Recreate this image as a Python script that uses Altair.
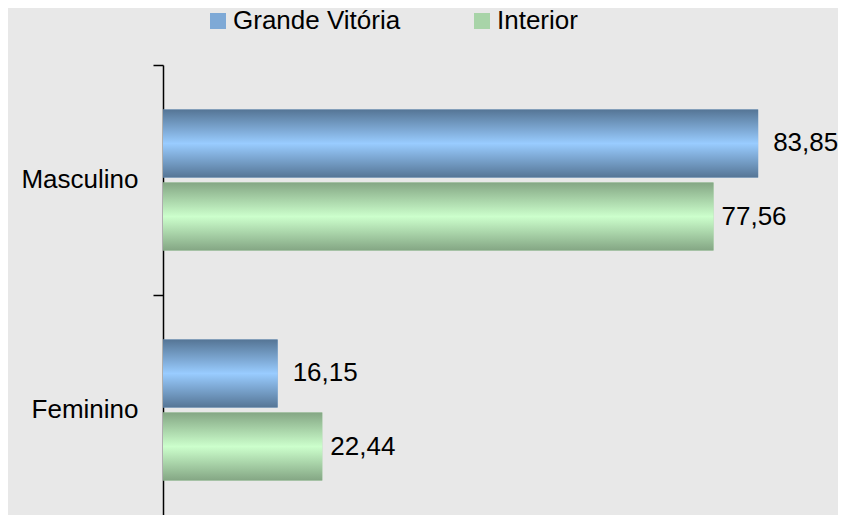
import altair as alt
import pandas as pd

categories = ["Masculino", "Feminino"]
series = ["Grande Vitória", "Interior"]
grande_vitoria = [83.85, 16.15]
interior = [77.56, 22.44]

rows = []
for i, c in enumerate(categories):
    rows.append({"sexo": c, "serie": series[0], "valor": grande_vitoria[i]})
    rows.append({"sexo": c, "serie": series[1], "valor": interior[i]})
df = pd.DataFrame(rows)

blue_grad = {
    "gradient": "linear", "x1": 0, "y1": 0, "x2": 0, "y2": 1,
    "stops": [
        {"offset": 0, "color": "#557595"},
        {"offset": 0.5, "color": "#99ccff"},
        {"offset": 1, "color": "#557595"},
    ],
}
green_grad = {
    "gradient": "linear", "x1": 0, "y1": 0, "x2": 0, "y2": 1,
    "stops": [
        {"offset": 0, "color": "#84a684"},
        {"offset": 0.5, "color": "#ccffcc"},
        {"offset": 1, "color": "#84a684"},
    ],
}

FONT = "Liberation Sans"

y_enc = alt.Y(
    "sexo:N",
    sort=categories,
    scale=alt.Scale(range=[0, 460], paddingInner=0, paddingOuter=0),
    axis=alt.Axis(
        title=None, bandPosition=0, tickSize=10,
        labelPadding=15, labelFontSize=26, labelFont=FONT, labelColor="black",
        domainColor="black", tickColor="black", domainWidth=1.5, tickWidth=1.5,
        grid=False,
    ),
)
yoff = alt.YOffset(
    "serie:N", sort=series,
    scale=alt.Scale(paddingInner=0.0685, paddingOuter=0.609),
)
x_enc = alt.X("valor:Q", scale=alt.Scale(domain=[0, 95.1]), axis=None)

base = alt.Chart(df)

bars_legend = base.mark_bar().encode(
    x=x_enc, y=y_enc, yOffset=yoff,
    color=alt.Color(
        "serie:N",
        scale=alt.Scale(domain=series, range=["#7ea9d6", "#a8d4a8"]),
        legend=alt.Legend(
            title=None, orient="none", direction="horizontal",
            legendX=42, legendY=-57, symbolType="square", symbolSize=256,
            symbolStrokeWidth=0, labelFontSize=26, labelFont=FONT,
            labelColor="black", labelOffset=2, columnPadding=68,
            labelLimit=400,
        ),
    ),
)

bars_grad = base.mark_bar().encode(
    x=x_enc, y=y_enc, yOffset=yoff,
    fill=alt.condition(
        alt.datum.serie == "Grande Vitória", alt.value(blue_grad), alt.value(green_grad)
    ),
)

lbl_expr = "replace(format(datum.valor, '.2f'), '.', ',')"

text_gv = base.transform_filter(alt.datum.serie == "Grande Vitória").transform_calculate(
    lbl=lbl_expr
).mark_text(
    align="left", baseline="middle", dx=15, fontSize=26, font=FONT, color="black"
).encode(x=x_enc, y=y_enc, yOffset=yoff, text="lbl:N")

text_int = base.transform_filter(alt.datum.serie == "Interior").transform_calculate(
    lbl=lbl_expr
).mark_text(
    align="left", baseline="middle", dx=8, fontSize=26, font=FONT, color="black"
).encode(x=x_enc, y=y_enc, yOffset=yoff, text="lbl:N")

chart = alt.layer(bars_legend, bars_grad, text_gv, text_int).properties(
    width=675, height=450,
    autosize=alt.AutoSizeParams(type="none"),
    padding={"left": 155, "top": 57, "right": 0, "bottom": 0},
    background="#e8e8e8",
).configure(
    font=FONT, view=alt.ViewConfig(strokeWidth=0, stroke="transparent")
)

chart.save("out.html", embed_options={"renderer": "svg", "actions": False})
